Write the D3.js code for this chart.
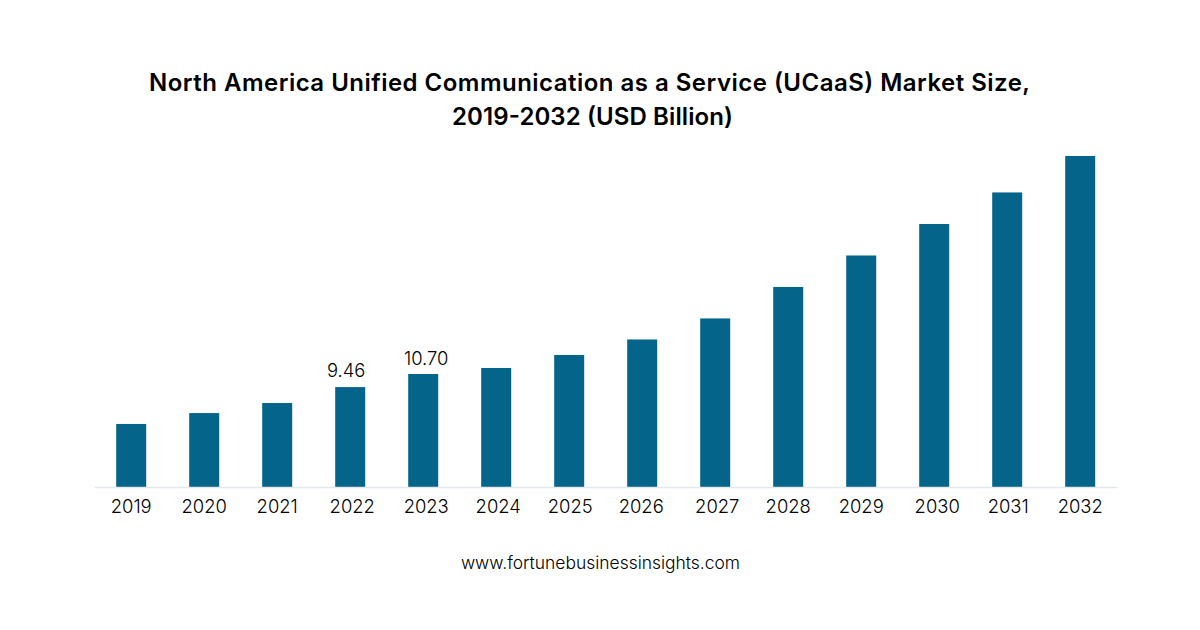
<!DOCTYPE html>
<html>
<head>
<meta charset="utf-8">
<script src="https://cdn.jsdelivr.net/npm/d3@7"></script>
<style>
  html, body { margin: 0; padding: 0; background: #fff; }
  svg { display: block; }
  text { font-family: Inter, "DejaVu Sans", sans-serif; fill: #000; }
</style>
</head>
<body>
<svg id="chart" width="1200" height="630"></svg>
<script>
// values, only 2022 and 2023 are printed on it
const years = ["2019","2020","2021","2022","2023","2024","2025","2026","2027","2028","2029","2030","2031","2032"];
const marketSize = [5.97, 7.0, 7.95, 9.46, 10.7, 11.27, 12.5, 13.97, 15.96, 18.94, 21.92, 24.9, 27.89, 31.34];
const barLabels = ["", "", "", "9.46", "10.70", "", "", "", "", "", "", "", "", ""];
const titleLines = ["North America Unified Communication as a Service (UCaaS) Market Size,", "2019-2032 (USD Billion)"];
const source = "www.fortunebusinessinsights.com";

// the year labels in the picture are not quite centred under their bars
const tickNudge = [0, 0, 0, 2, 3, 2, 1, -1, 2, 0, 0, 3, 1, 0];
const titleWidths = [881, 281];

const svg = d3.select("#chart");

// bars are 30px wide on a 73px step
const x = d3.scaleBand().domain(years).range([94.2, 1117.2]).paddingInner(43 / 73).paddingOuter(22 / 73);
const y = d3.scaleLinear().domain([0, 31.34]).range([487, 156]);

// title
svg.selectAll(".title")
  .data(titleLines)
  .join("text")
  .attr("class", "title")
  .attr("x", (d, i) => i == 0 ? 589.5 : 592.5)
  .attr("y", (d, i) => 91 + i * 34)
  .attr("text-anchor", "middle")
  .attr("font-size", 24)
  .attr("font-weight", 600)
  .attr("textLength", (d, i) => titleWidths[i])
  .attr("lengthAdjust", "spacing")
  .text(d => d);

// bars
svg.selectAll(".bar")
  .data(years)
  .join("rect")
  .attr("class", "bar")
  .attr("x", d => x(d))
  .attr("y", (d, i) => y(marketSize[i]))
  .attr("width", x.bandwidth())
  .attr("height", (d, i) => y(0) - y(marketSize[i]))
  .attr("fill", "#05648a");

// x axis
const xAxis = svg.append("g")
  .attr("transform", "translate(0,487)")
  .call(d3.axisBottom(x).tickSize(0).tickPadding(12.5));
xAxis.select(".domain").attr("stroke", "#e3e8eb").attr("stroke-width", 1.5);
xAxis.selectAll("text")
  .attr("font-size", 18.4)
  .attr("font-weight", 300)
  .attr("dx", (d, i) => tickNudge[i])
  .style("font-family", "Inter, 'DejaVu Sans', sans-serif");

// value labels
svg.selectAll(".value")
  .data(years)
  .join("text")
  .attr("class", "value")
  .attr("x", d => x(d) + x.bandwidth() / 2 + (d == "2022" ? -4 : 3))
  .attr("y", (d, i) => y(marketSize[i]) - (d == "2022" ? 10 : 9))
  .attr("text-anchor", "middle")
  .attr("font-size", 18.4)
  .attr("font-weight", 300)
  .text((d, i) => barLabels[i]);

// source
svg.append("text")
  .attr("x", 600.5)
  .attr("y", 569)
  .attr("text-anchor", "middle")
  .attr("font-size", 17.45)
  .attr("font-weight", 300)
  .text(source);
</script>
</body>
</html>
